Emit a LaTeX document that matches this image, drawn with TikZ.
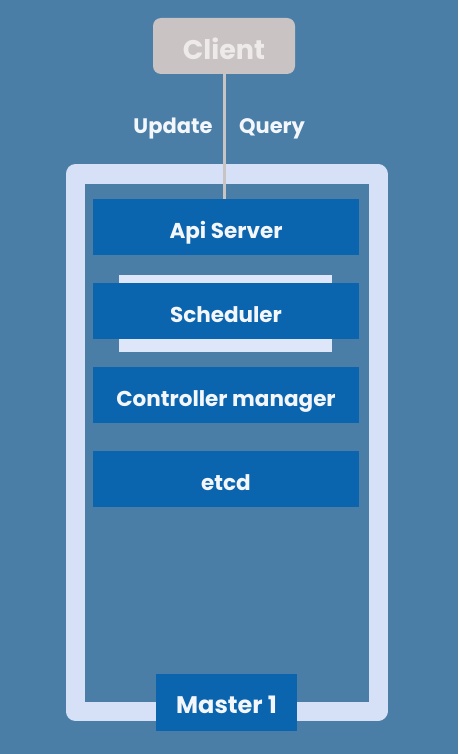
\documentclass[tikz,border=0pt]{standalone}
\usepackage{fontspec}
\setmainfont{Poppins}
\definecolor{bgblue}{HTML}{4A7EA6}
\definecolor{framec}{HTML}{D6E1F8}
\definecolor{boxblue}{HTML}{0B64AE}
\definecolor{clientc}{HTML}{C9C3C4}
\definecolor{clienttxt}{HTML}{EEEAEA}
\definecolor{linec}{HTML}{C8C4C4}
\definecolor{txtc}{HTML}{F3F6FB}
\tikzset{
  compbox/.style={fill=boxblue, draw=none, minimum width=266pt, minimum height=56pt,
    inner sep=0pt, text=txtc, text height=23pt, text depth=0pt,
    font=\fontsize{21.5}{24}\selectfont\bfseries},
  lbl/.style={text=txtc, inner sep=0pt, anchor=base, font=\fontsize{21}{24}\selectfont\bfseries},
}
\begin{document}
\begin{tikzpicture}[x=1pt,y=-1pt]
  \fill[bgblue] (0,0) rectangle (458,754);
  \useasboundingbox (0,0) rectangle (458,754);
  % frame
  \draw[framec, line width=19pt, line join=round] (75,174) rectangle (378,711);
  % scheduler backing
  \fill[framec!80!white] (119,275) rectangle (332,352);
  % client
  \node[fill=clientc, rounded corners=8pt, minimum width=142pt, minimum height=56pt,
        inner sep=0pt, text=clienttxt, text height=27pt, text depth=0pt,
        font=\fontsize{27}{30}\selectfont\bfseries]
        (client) at (224,46) {Client};
  \node[compbox] (api) at (226,227) {Api Server};
  \node[compbox] (sched) at (226,311) {Scheduler};
  \node[compbox] (ctrl) at (226,395) {Controller manager};
  \node[compbox] (etcd) at (226,479) {etcd};
  \node[compbox, minimum width=141pt, minimum height=57pt, text height=22.8pt,
        font=\fontsize{24}{27}\selectfont\bfseries] (master) at (226.5,702.5) {Master 1};
  \draw[linec, line width=3pt] (client.south -| 224,0) -- (api.north -| 224,0);
  \node[lbl] (upd) at (173,134) {Update};
  \node[lbl] (qry) at (272,134) {Query};
\end{tikzpicture}
\end{document}
